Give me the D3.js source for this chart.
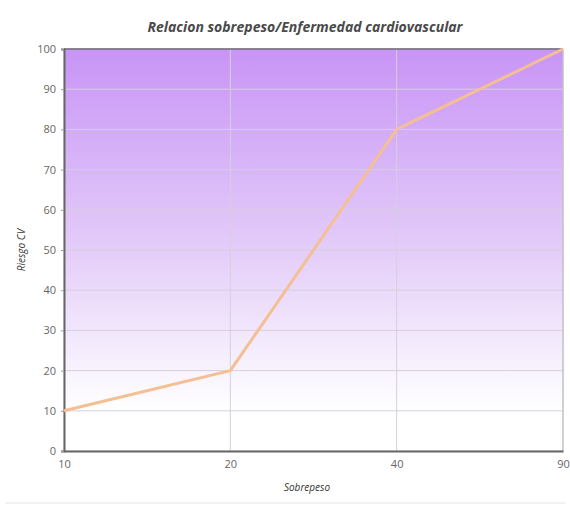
<!DOCTYPE html>
<html><head><meta charset="utf-8">
<script src="https://cdn.jsdelivr.net/npm/d3@7"></script>
<style>body{margin:0;background:#fff}svg{display:block}text{font-family:"Open Sans",sans-serif}</style>
</head><body>
<svg id="c" width="570" height="505"></svg>
<script>
const categories = ["10", "20", "40", "90"];
const values = [10, 20, 80, 100];
const yTicks = [0, 10, 20, 30, 40, 50, 60, 70, 80, 90, 100];
const title = "Relacion sobrepeso/Enfermedad cardiovascular";
const xTitle = "Sobrepeso";
const yTitle = "Riesgo CV";

const svg = d3.select("#c");
const m = {l: 64, r: 7, t: 49, b: 54};
const W = 570, H = 505;
const x = d3.scalePoint().domain(categories).range([m.l, W - m.r]).padding(0);
const y = d3.scaleLinear().domain([0, 100]).range([H - m.b, m.t]);

const defs = svg.append("defs");
const g = defs.append("linearGradient").attr("id", "bg").attr("x1", 0).attr("y1", 0).attr("x2", 0).attr("y2", 1);
g.append("stop").attr("offset", "0%").attr("stop-color", "#c894f6");
g.append("stop").attr("offset", "50%").attr("stop-color", "#e4cdf9");
g.append("stop").attr("offset", "90%").attr("stop-color", "#ffffff");

svg.append("rect").attr("x", m.l).attr("y", m.t).attr("width", W - m.r - m.l).attr("height", H - m.b - m.t).attr("fill", "url(#bg)");

// grid
svg.append("g").selectAll("line").data(yTicks).join("line")
  .attr("x1", m.l).attr("x2", W - m.r).attr("y1", d => y(d)).attr("y2", d => y(d))
  .attr("stroke", "#d6cfdc").attr("stroke-width", 1);
svg.append("g").selectAll("line").data(categories).join("line")
  .attr("x1", d => x(d)).attr("x2", d => x(d)).attr("y1", m.t).attr("y2", H - m.b)
  .attr("stroke", "#d6cfdc").attr("stroke-width", 1);

// border
svg.append("line").attr("x1", W - m.r).attr("x2", W - m.r).attr("y1", m.t).attr("y2", H - m.b)
  .attr("stroke", "#b8b8b8").attr("stroke-width", 1);
svg.append("line").attr("x1", m.l).attr("x2", W - m.r).attr("y1", m.t).attr("y2", m.t)
  .attr("stroke", "#6e6478").attr("stroke-width", 1.5);

// axes
const ya = svg.append("g").attr("transform", `translate(${m.l},0)`)
  .call(d3.axisLeft(y).tickValues(yTicks).tickSize(3).tickPadding(5));
ya.select(".domain").attr("stroke", "#666").attr("stroke-width", 2);
ya.selectAll(".tick line").attr("stroke", "#999");
ya.selectAll("text").attr("fill", "#666").attr("font-size", 11);

const xa = svg.append("g").attr("transform", `translate(0,${H - m.b})`)
  .call(d3.axisBottom(x).tickSize(0).tickPadding(9));
xa.select(".domain").attr("stroke", "#666").attr("stroke-width", 2);
xa.selectAll("text").attr("fill", "#666").attr("font-size", 11);

// line
const line = d3.line().x((d, i) => x(categories[i])).y(d => y(d));
svg.append("path").datum(values).attr("d", line)
  .attr("fill", "none").attr("stroke", "#f4bf92").attr("stroke-width", 3).attr("stroke-linejoin", "round");

// titles
svg.append("text").attr("x", 305).attr("y", 32).attr("text-anchor", "middle")
  .attr("font-size", 14).attr("font-style", "italic").attr("font-weight", "bold").attr("fill", "#4a4a4a").text(title);
svg.append("text").attr("x", 307).attr("y", 491).attr("text-anchor", "middle")
  .attr("font-size", 10).attr("font-style", "italic").attr("fill", "#333").text(xTitle);
svg.append("text").attr("transform", "translate(25,250) rotate(-90)").attr("text-anchor", "middle")
  .attr("font-size", 10).attr("font-style", "italic").attr("fill", "#333").text(yTitle);

svg.append("line").attr("x1", 5).attr("x2", 565).attr("y1", 503).attr("y2", 503).attr("stroke", "#e4e4e4");
</script>
</body></html>
